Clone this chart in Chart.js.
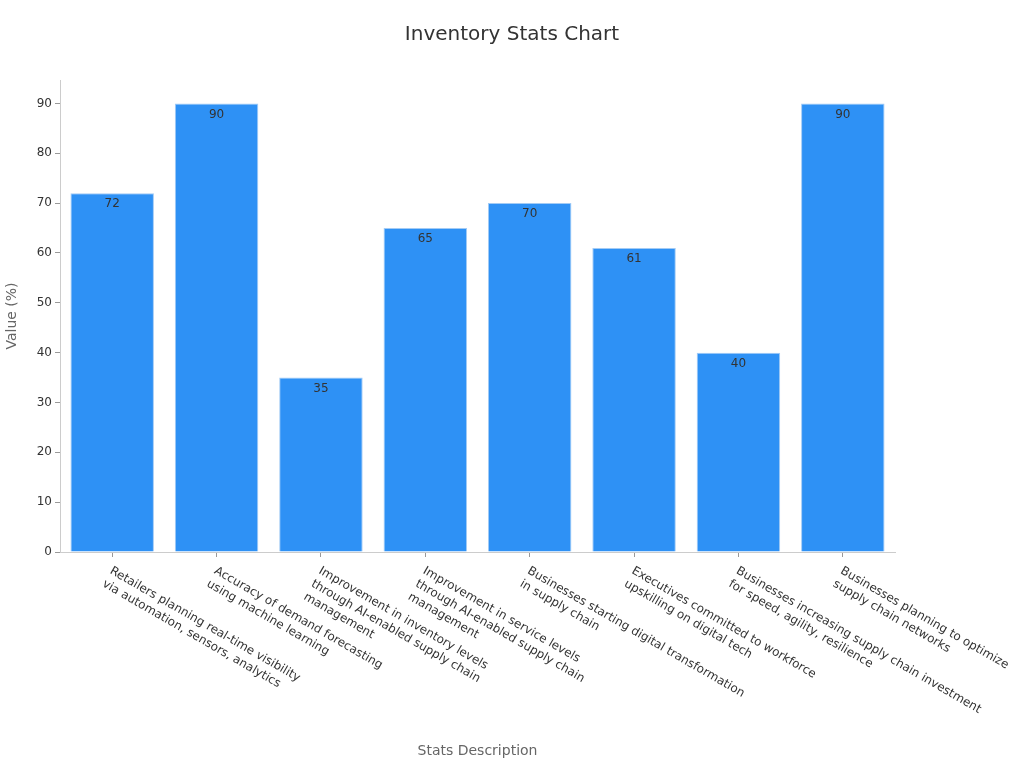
<!DOCTYPE html>
<html>
<head>
<meta charset="utf-8">
<title>Inventory Stats Chart</title>
<script src="https://cdn.jsdelivr.net/npm/chart.js@4.4.0/dist/chart.umd.min.js"></script>
<style>
  html, body { margin: 0; padding: 0; background: #fff; }
  canvas { display: block; }
</style>
</head>
<body>
<canvas id="myChart" width="1024" height="768"></canvas>
<script>
const categories = [
  ['Retailers planning real-time visibility', 'via automation, sensors, analytics'],
  ['Accuracy of demand forecasting', 'using machine learning'],
  ['Improvement in inventory levels', 'through AI-enabled supply chain', 'management'],
  ['Improvement in service levels', 'through AI-enabled supply chain', 'management'],
  ['Businesses starting digital transformation', 'in supply chain'],
  ['Executives committed to workforce', 'upskilling on digital tech'],
  ['Businesses increasing supply chain investment', 'for speed, agility, resilience'],
  ['Businesses planning to optimize', 'supply chain networks']
];
const values = [72, 90, 35, 65, 70, 61, 40, 90];
const yTicks = [0, 10, 20, 30, 40, 50, 60, 70, 80, 90];
const yMax = 94.7;
const chartTitle = 'Inventory Stats Chart';

Chart.defaults.font.family = '"DejaVu Sans", sans-serif';

// title centred on the page, value labels inside the bars,
// and rotated left-aligned category labels
const labelPlugin = {
  id: 'labelPlugin',
  afterDatasetsDraw(chart) {
    const ctx = chart.ctx;
    const meta = chart.getDatasetMeta(0);
    ctx.save();
    ctx.font = '12px "DejaVu Sans"';
    ctx.fillStyle = '#333';
    ctx.textAlign = 'center';
    ctx.textBaseline = 'middle';
    meta.data.forEach((bar, i) => {
      ctx.fillText(values[i], bar.x, bar.y + 11);
    });
    ctx.restore();
  },
  afterDraw(chart) {
    const ctx = chart.ctx;
    const xScale = chart.scales.x;
    ctx.save();
    ctx.font = '20px "DejaVu Sans"';
    ctx.fillStyle = '#333';
    ctx.textAlign = 'center';
    ctx.textBaseline = 'middle';
    ctx.fillText(chartTitle, chart.width / 2, 35);

    ctx.font = '11.9px "DejaVu Sans"';
    ctx.textAlign = 'left';
    ctx.textBaseline = 'top';
    categories.forEach((lines, i) => {
      const x = xScale.getPixelForTick(i);
      ctx.save();
      ctx.translate(x + 1.5, xScale.top + 13);
      ctx.rotate(Math.PI / 6);
      lines.forEach((line, j) => ctx.fillText(line, 0, j * 15));
      ctx.restore();
    });
    ctx.restore();
  }
};

const ctx = document.getElementById('myChart').getContext('2d');
const myChart = new Chart(ctx, {
  type: 'bar',
  data: {
    labels: categories,
    datasets: [{
      label: 'Value (%)',
      data: values,
      backgroundColor: '#2e91f5',
      borderColor: '#a3cbf5',
      borderWidth: 1,
      categoryPercentage: 0.8,
      barPercentage: 1.0
    }]
  },
  options: {
    responsive: false,
    animation: false,
    layout: { padding: { left: 0, right: 129, top: 80, bottom: 0 } },
    plugins: {
      legend: { display: false },
      tooltip: { enabled: false },
      title: { display: false }
    },
    scales: {
      x: {
        grid: { display: true, drawOnChartArea: false, offset: false, color: '#999', tickLength: 5 },
        border: { color: '#ccc' },
        ticks: { display: false },
        title: {
          display: true,
          text: 'Stats Description',
          color: '#666',
          font: { size: 14 },
          padding: { top: 0, bottom: 8 }
        },
        afterFit(scale) { scale.height = 216; }
      },
      y: {
        min: 0,
        max: yMax,
        grid: { drawOnChartArea: false, color: '#999', tickLength: 5 },
        border: { color: '#ccc' },
        ticks: { stepSize: 10, color: '#333', padding: 3, font: { size: 12 } },
        afterBuildTicks(scale) { scale.ticks = yTicks.map(v => ({ value: v })); },
        title: {
          display: true,
          text: 'Value (%)',
          color: '#666',
          font: { size: 14 },
          padding: { top: 4, bottom: 0 }
        },
        afterFit(scale) { scale.width = 60; }
      }
    }
  },
  plugins: [labelPlugin]
});
</script>
</body>
</html>
